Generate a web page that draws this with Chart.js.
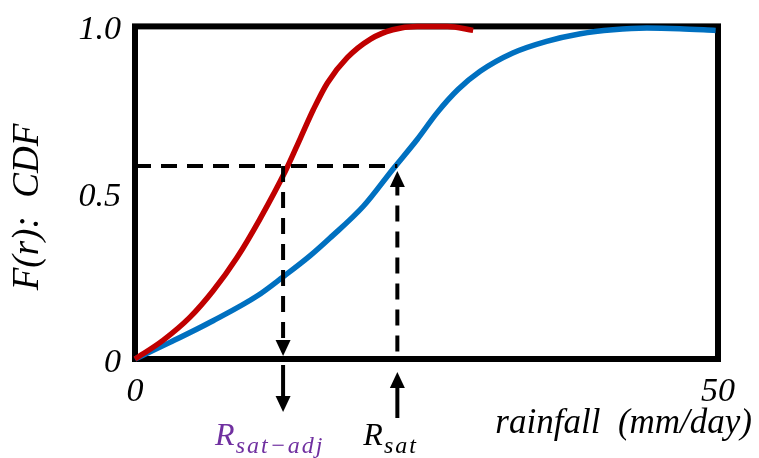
<!DOCTYPE html>
<html>
<head>
<meta charset="utf-8">
<script src="https://cdn.jsdelivr.net/npm/chart.js@4"></script>
<style>
  html, body { margin: 0; padding: 0; background: #fff; }
  #wrap { width: 759px; height: 458px; }
</style>
</head>
<body>
<div id="wrap"><canvas id="cdfChart" width="759" height="458"></canvas></div>
<script>
const redX  = [0, 2.4, 4.7, 6.7, 8.75, 10.7, 12.9, 14.2, 15.3, 16.5, 18.2, 20.2, 22.1, 24.2, 26.8, 29.0];
const redY  = [0, 0.056, 0.125, 0.205, 0.305, 0.42, 0.565, 0.665, 0.75, 0.83, 0.906, 0.962, 0.99, 1.0, 1.0, 0.988];
const blueX = [0, 3.0, 6.7, 10.5, 12.7, 15.0, 16.7, 19.6, 22.1, 24.2, 25.9, 27.7, 29.6, 32.4, 35.3, 38.2, 41.0, 43.9, 46.7, 49.8];
const blueY = [0, 0.05, 0.115, 0.19, 0.247, 0.31, 0.363, 0.46, 0.57, 0.66, 0.74, 0.81, 0.865, 0.92, 0.955, 0.978, 0.99, 0.995, 0.993, 0.988];
const xTicks = [0, 50];
const yTicks = [0, 0.5, 1.0];
const yTickLabels = ['0', '0.5', '1.0'];
const level = 0.58;      // F(r) used for the dashed guide
const rSatAdj = 12.7;
const rSat = 22.5;

const serif = '"Liberation Serif", "Times New Roman", serif';

function toPoints(xs, ys) {
  return xs.map((x, i) => ({ x: x, y: ys[i] }));
}

function arrowHead(ctx, x, tipY, dir, w, len) {
  // dir = 1 points down, -1 points up
  ctx.beginPath();
  ctx.moveTo(x, tipY);
  ctx.lineTo(x - w / 2, tipY - dir * len);
  ctx.lineTo(x + w / 2, tipY - dir * len);
  ctx.closePath();
  ctx.fill();
}

const framePlugin = {
  id: 'frame',
  beforeDatasetsDraw(chart) {
    const { ctx, chartArea: a } = chart;
    ctx.save();
    ctx.strokeStyle = '#000';
    ctx.lineWidth = 6;
    ctx.strokeRect(a.left, a.top, a.right - a.left, a.bottom - a.top);
    ctx.restore();
  },
  afterDatasetsDraw(chart) {
    const { ctx, chartArea: a } = chart;
    const xs = chart.scales.x, ys = chart.scales.y;
    const pAdj = xs.getPixelForValue(rSatAdj);
    const pSat = xs.getPixelForValue(rSat);
    const pLev = ys.getPixelForValue(level);
    ctx.save();
    ctx.fillStyle = '#000';
    ctx.strokeStyle = '#000';
    ctx.lineWidth = 4;

    // heads on the dashed guides
    arrowHead(ctx, pAdj, a.bottom - 3, 1, 15, 16);
    arrowHead(ctx, pSat, pLev + 5, -1, 15, 16);

    // arrows under the axis
    ctx.beginPath();
    ctx.moveTo(pAdj, a.bottom + 6);
    ctx.lineTo(pAdj, a.bottom + 40);
    ctx.stroke();
    arrowHead(ctx, pAdj, a.bottom + 53, 1, 15, 16);

    ctx.beginPath();
    ctx.moveTo(pSat, a.bottom + 59);
    ctx.lineTo(pSat, a.bottom + 26);
    ctx.stroke();
    arrowHead(ctx, pSat, a.bottom + 13, -1, 15, 16);

    // R labels
    function rLabel(left, base, sub, color) {
      ctx.fillStyle = color;
      ctx.textAlign = 'left';
      ctx.textBaseline = 'alphabetic';
      ctx.font = 'italic 32px ' + serif;
      ctx.fillText('R', left, base);
      const w = ctx.measureText('R').width;
      ctx.font = 'italic 24px ' + serif;
      ctx.letterSpacing = '2px';
      ctx.fillText(sub, left + w + 1, base + 8);
      ctx.letterSpacing = '0px';
    }
    rLabel(pAdj - 68, a.bottom + 86, 'sat−adj', '#7030A0');
    rLabel(pSat - 34, a.bottom + 86, 'sat', '#000');

    // axis titles
    ctx.fillStyle = '#000';
    ctx.font = 'italic 35px ' + serif;
    ctx.textAlign = 'right';
    ctx.fillText('rainfall  (mm/day)', a.right + 34, a.bottom + 74);

    ctx.translate(38, 207);
    ctx.rotate(-Math.PI / 2);
    ctx.textAlign = 'center';
    ctx.font = 'italic 37px ' + serif;
    ctx.fillText('F(r):  CDF', 0, 0);
    ctx.restore();
  }
};

const dash = { borderColor: '#000', borderWidth: 4, borderDash: [16, 10], pointRadius: 0, fill: false, tension: 0 };
const curve = { borderWidth: 5.5, pointRadius: 0, fill: false, cubicInterpolationMode: 'monotone', clip: 8 };

new Chart(document.getElementById('cdfChart'), {
  type: 'line',
  data: {
    datasets: [
      Object.assign({ data: [{ x: 0, y: level }, { x: rSat, y: level }] }, dash),
      Object.assign({ data: [{ x: rSatAdj, y: level }, { x: rSatAdj, y: 0.04 }] }, dash),
      Object.assign({ data: [{ x: rSat, y: level - 0.04 }, { x: rSat, y: 0 }] }, dash),
      Object.assign({ data: toPoints(redX, redY), borderColor: '#C00000' }, curve),
      Object.assign({ data: toPoints(blueX, blueY), borderColor: '#0070C0' }, curve)
    ]
  },
  options: {
    responsive: false,
    animation: false,
    layout: { padding: { top: 18, right: 41, left: 0, bottom: 0 } },
    plugins: { legend: { display: false }, tooltip: { enabled: false } },
    scales: {
      x: {
        type: 'linear',
        min: 0, max: 50,
        grid: { display: false },
        border: { display: false },
        afterFit: s => { s.height = 99; },
        afterBuildTicks: s => { s.ticks = xTicks.map(v => ({ value: v })); },
        ticks: {
          color: '#000',
          padding: 5,
          maxRotation: 0,
          font: { family: serif, style: 'italic', size: 34 },
          callback: v => String(v)
        }
      },
      y: {
        type: 'linear',
        min: 0, max: 1,
        grid: { display: false },
        border: { display: false },
        afterFit: s => { s.width = 135; },
        afterBuildTicks: s => { s.ticks = yTicks.map(v => ({ value: v })); },
        ticks: {
          color: '#000',
          padding: 6,
          labelOffset: 4,
          font: { family: serif, style: 'italic', size: 34 },
          callback: v => yTickLabels[yTicks.indexOf(v)]
        }
      }
    }
  },
  plugins: [framePlugin]
});
</script>
</body>
</html>
